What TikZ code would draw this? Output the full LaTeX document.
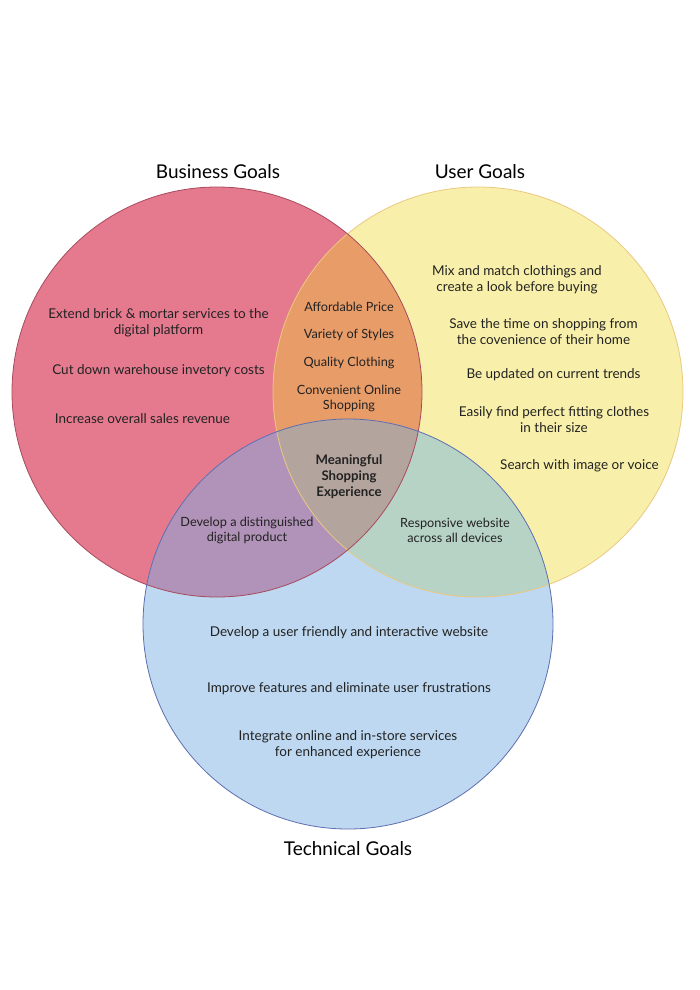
\documentclass[tikz,border=0pt]{standalone}
\usepackage{fontspec}
\setmainfont{Lato}
\definecolor{cred}{HTML}{E57A8F}
\definecolor{cyel}{HTML}{F8F0AA}
\definecolor{cblu}{HTML}{BDD8F0}
\definecolor{cora}{HTML}{E89C68}
\definecolor{cpur}{HTML}{B192B8}
\definecolor{cgre}{HTML}{B7D3C6}
\definecolor{ccen}{HTML}{B3A49E}
\definecolor{sred}{HTML}{A84A5C}
\definecolor{syel}{HTML}{EBC880}
\definecolor{sblu}{HTML}{5E6EB0}
\definecolor{txt}{HTML}{222222}
\begin{document}
\begin{tikzpicture}[x=1pt,y=-1pt,
  title/.style={font=\fontsize{19}{22}\selectfont, text=black, yshift=-1.5pt},
  item/.style={font=\fontsize{13.5}{16}\selectfont, text=txt, align=center, inner sep=0pt, yshift=-1.5pt},
  small/.style={font=\fontsize{12.7}{15}\selectfont, text=txt, align=center, inner sep=0pt, yshift=-1.5pt},
  core/.style={font=\fontsize{13.2}{16}\selectfont\bfseries, text=txt, align=center, inner sep=0pt, yshift=-1.5pt}]
\useasboundingbox[fill=white] (0,0) rectangle (700,990);
\def\R{205}
\coordinate (B) at (217,392);
\coordinate (U) at (478,392);
\coordinate (T) at (348,624);
% base fills
\fill[cred] (B) circle (\R);
\fill[cyel] (U) circle (\R);
\fill[cblu] (T) circle (\R);
% pairwise intersections
\begin{scope}
  \clip (B) circle (\R);
  \fill[cora] (U) circle (\R);
  \fill[cpur] (T) circle (\R);
\end{scope}
\begin{scope}
  \clip (U) circle (\R);
  \fill[cgre] (T) circle (\R);
\end{scope}
\begin{scope}
  \clip (B) circle (\R);
  \clip (U) circle (\R);
  \fill[ccen] (T) circle (\R);
\end{scope}
% strokes
\draw[syel, line width=0.8pt] (U) circle (\R);
\draw[sred, line width=0.8pt] (B) circle (\R);
\draw[sblu, line width=0.8pt] (T) circle (\R);
% titles
\node[title] (tb) at (218,170) {Business Goals};
\node[title] (tu) at (480,170) {User Goals};
\node[title] (tt) at (348,847) {Technical Goals};
% business
\node[item] (b1) at (158.5,321) {Extend brick \& mortar services to the\\digital platform};
\node[item] (b2) at (158.5,369) {Cut down warehouse invetory costs};
\node[item] (b3) at (142.5,417) {Increase overall sales revenue};
% business & user
\node[small] (o1) at (349,305) {Affordable Price};
\node[small] (o2) at (349,333) {Variety of Styles};
\node[small] (o3) at (349,361) {Quality Clothing};
\node[small] (o4) at (349,396.5) {Convenient Online\\Shopping};
% user
\node[item] (u1) at (517,278) {Mix and match clothings and\\create a look before buying};
\node[item] (u2) at (543.5,330) {Save the time on shopping from\\the covenience of their home};
\node[item] (u3) at (553.5,373) {Be updated on current trends};
\node[item] (u4) at (554,418) {Easily find perfect fitting clothes\\in their size};
\node[item] (u5) at (579.5,464) {Search with image or voice};
% centre
\node[core] (c) at (349,475) {Meaningful\\Shopping\\Experience};
\node[small] (p1) at (247,528.5) {Develop a distinguished\\digital product};
\node[small] (g1) at (455,528.5) {Responsive website\\across all devices};
% technical
\node[item] (t1) at (349,631) {Develop a user friendly and interactive website};
\node[item] (t2) at (349,687) {Improve features and eliminate user frustrations};
\node[item] (t3) at (348,743) {Integrate online and in-store services\\for enhanced experience};
\end{tikzpicture}
\end{document}
